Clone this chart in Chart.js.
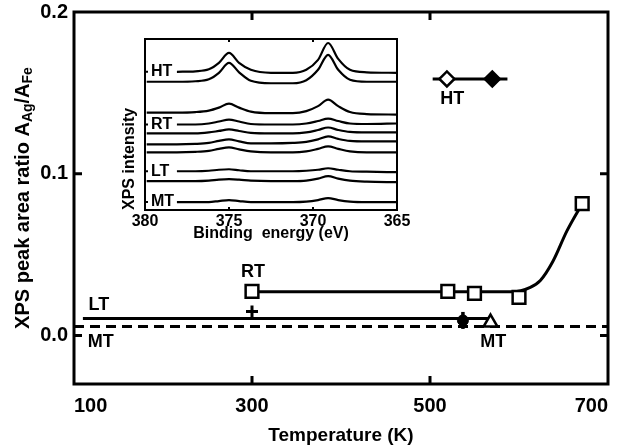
<!DOCTYPE html>
<html>
<head>
<meta charset="utf-8">
<script src="https://cdn.jsdelivr.net/npm/chart.js@4.4.0/dist/chart.umd.min.js"></script>
<style>
  html, body { margin: 0; padding: 0; background: #fff; }
  #wrap { position: relative; width: 621px; height: 447px; }
  #main { position: absolute; left: 0; top: 0; }
  #inset { position: absolute; left: 120px; top: 28px; }
</style>
</head>
<body>
<div id="wrap">
  <canvas id="main" width="621" height="447"></canvas>
  <canvas id="inset" width="290" height="215"></canvas>
</div>
<script>
// main plot: peak area ratio vs temperature
const tempTicks = [100, 300, 500, 700];
const ratioTicks = [0, 0.1, 0.2];

const rtTemp = [300, 520, 550, 600, 671];
const rtRatio = [0.0272, 0.0273, 0.026, 0.0235, 0.0815];
const rtFitTemp = [300, 593, 612, 624, 638, 654, 671];
const rtFitRatio = [0.027, 0.027, 0.0296, 0.034, 0.0457, 0.0648, 0.0815];

const ltLineTemp = [110, 568];
const ltLineRatio = [0.0105, 0.0105];
const ltPlusTemp = [300];
const ltPlusRatio = [0.0148];
const ltDotTemp = [537];
const ltDotRatio = [0.0093];

const mtLineTemp = [100, 700];
const mtLineRatio = [0.0056, 0.0056];
const mtTriTemp = [568];
const mtTriRatio = [0.008];

const htTemp = [519, 570];
const htRatio = [0.1586, 0.1586];
const htLineTemp = [503, 587];
const htLineRatio = [0.1586, 0.1586];

const noteText = ['LT', 'MT', 'RT', 'HT', 'MT'];
const noteTemp = [128, 130, 301, 525, 571];
const noteRatio = [0.0191, -0.0043, 0.0395, 0.1463, -0.0043];

// inset: XPS spectra (Ag 3d), stacked, arbitrary units
const energyTicks = [380, 375, 370, 365];
const energy = [379.9, 378.1, 377, 376.2, 375.6, 375, 374.4, 373.7, 372.5, 371.2, 370.4, 369.7, 369.1, 368.5, 367.8, 366.8, 365];
const spectra = [
  [null, 139, 139.5, 141.5, 148, 158, 148, 141, 138, 138, 141, 151, 168, 152, 141, 138.5, 138],
  [129, 129, 129.5, 131.5, 138, 148, 138.5, 130, 127.5, 127.5, 130.5, 141, 156, 141, 131, 129, 129],
  [98, 98, 98.5, 100, 103, 107, 103, 99, 97.5, 97.5, 99.5, 104.5, 111, 104.5, 98.5, 96.5, 96],
  [null, 86, 86, 87, 89, 91, 89, 86.5, 86, 86, 87, 89.5, 92, 89.5, 87, 86.5, 87],
  [77, 77, 77, 78, 79.5, 81, 79.5, 77.5, 77, 77, 78, 80.5, 83, 80.5, 78.5, 78, 78],
  [66, 66, 66.5, 67.5, 69.5, 71, 69, 67, 67, 67.5, 68.5, 71, 74, 71.5, 69.5, 69, 69],
  [58, 58, 58.5, 59.5, 61.5, 63, 61, 59, 58, 58, 59, 61.5, 64, 61.5, 59, 58, 58],
  [null, 39, 39, 39.5, 40.5, 41, 40, 39, 39, 39, 39.5, 40.5, 42, 40.5, 39, 38.5, 38],
  [29, 29, 29, 29.5, 30.5, 31, 30.5, 29.5, 29, 29, 29.5, 31.5, 34, 31.5, 29.5, 28.5, 28],
  [null, 8, 8, 8, 9, 10, 9, 8, 8, 8, 8.5, 10, 12, 10, 8.5, 8, 8]
];
const insetNoteText = ['HT', 'RT', 'LT', 'MT'];
const insetNoteEnergy = [379.65, 379.65, 379.65, 379.65];
const insetNoteLevel = [139, 86, 39, 8];

const FONT = "'Liberation Sans', Arial, Helvetica, sans-serif";
Chart.defaults.font.family = FONT;
Chart.defaults.color = '#000';

const pts = (xs, ys) => xs.map((x, i) => ({ x: x, y: ys[i] }));

// box around the plot area plus inward tick marks
const framePlugin = {
  id: 'frame',
  afterDraw(chart, args, opts) {
    const { ctx, chartArea: a, scales } = chart;
    ctx.save();
    ctx.strokeStyle = '#000';
    ctx.lineWidth = opts.width;
    ctx.strokeRect(a.left, a.top, a.right - a.left, a.bottom - a.top);
    ctx.beginPath();
    const L = opts.tick;
    scales.x.ticks.forEach(t => {
      const px = scales.x.getPixelForValue(t.value);
      if (px <= a.left + 2 || px >= a.right - 2) return;
      ctx.moveTo(px, a.bottom); ctx.lineTo(px, a.bottom - L);
      ctx.moveTo(px, a.top); ctx.lineTo(px, a.top + L);
    });
    const yMarks = opts.yMarks || scales.y.ticks.map(t => t.value);
    yMarks.forEach(v => {
      const py = scales.y.getPixelForValue(v);
      if (py <= a.top + 2 || py >= a.bottom - 2) return;
      ctx.moveTo(a.left, py); ctx.lineTo(a.left + L, py);
      if (opts.right !== false) { ctx.moveTo(a.right, py); ctx.lineTo(a.right - L, py); }
    });
    ctx.stroke();
    ctx.restore();
  }
};

// text labels placed at data coordinates
const notesPlugin = {
  id: 'notes',
  afterDatasetsDraw(chart, args, opts) {
    const { ctx, scales } = chart;
    ctx.save();
    ctx.fillStyle = '#000';
    ctx.font = 'bold ' + opts.size + 'px ' + FONT;
    ctx.textAlign = opts.align;
    ctx.textBaseline = 'middle';
    opts.text.forEach((s, i) => {
      ctx.fillText(s, scales.x.getPixelForValue(opts.xs[i]), scales.y.getPixelForValue(opts.ys[i]));
    });
    ctx.restore();
  }
};

// y title with subscripts
const yTitlePlugin = {
  id: 'ytitle',
  afterDraw(chart) {
    const { ctx, chartArea: a } = chart;
    const parts = [
      ['XPS peak area ratio A', 20, 0],
      ['Ag', 14, 5],
      ['/A', 20, 0],
      ['Fe', 14, 5]
    ];
    ctx.save();
    let total = 0;
    parts.forEach(p => { ctx.font = 'bold ' + p[1] + 'px ' + FONT; total += ctx.measureText(p[0]).width; });
    ctx.translate(23, (a.top + a.bottom) / 2);
    ctx.rotate(-Math.PI / 2);
    ctx.fillStyle = '#000';
    ctx.textBaseline = 'middle';
    ctx.textAlign = 'left';
    let x = -total / 2;
    parts.forEach(p => {
      ctx.font = 'bold ' + p[1] + 'px ' + FONT;
      ctx.fillText(p[0], x, p[2]);
      x += ctx.measureText(p[0]).width;
    });
    ctx.restore();
  }
};

const lineDs = (data, extra) => Object.assign({
  data: data, showLine: true, borderColor: '#000', borderWidth: 3,
  pointRadius: 0, fill: false
}, extra || {});
const markDs = (data, style, r, bg, extra) => Object.assign({
  data: data, showLine: false, pointStyle: style, pointRadius: r,
  pointBorderColor: '#000', pointBackgroundColor: bg, pointBorderWidth: 2.5
}, extra || {});

new Chart(document.getElementById('main'), {
  type: 'scatter',
  data: {
    datasets: [
      markDs(pts(rtTemp, rtRatio), 'rect', 9, '#fff'),
      markDs(pts(htTemp, htRatio), 'rectRot', 7.5, ['#fff', '#000']),
      markDs(pts(mtTriTemp, mtTriRatio), 'triangle', 8, '#fff'),
      markDs(pts(ltPlusTemp, ltPlusRatio), 'cross', 6, '#000', { pointBorderWidth: 3 }),
      markDs(pts(ltDotTemp, ltDotRatio), 'line', 8.5, '#000', { pointBorderWidth: 3.5, pointRotation: 90 }),
      markDs(pts(ltDotTemp, ltDotRatio), 'circle', 5.5, '#000', { pointBorderWidth: 1 }),
      lineDs(pts(rtFitTemp, rtFitRatio), { cubicInterpolationMode: 'monotone' }),
      lineDs(pts(ltLineTemp, ltLineRatio)),
      lineDs(pts(htLineTemp, htLineRatio)),
      lineDs(pts(mtLineTemp, mtLineRatio), { borderDash: [10, 6] })
    ]
  },
  options: {
    responsive: false,
    animation: false,
    layout: { padding: { left: 0, top: 12, right: 13, bottom: 0 } },
    plugins: {
      legend: { display: false },
      tooltip: { enabled: false },
      frame: { width: 3, tick: 8 },
      notes: { text: noteText, xs: noteTemp, ys: noteRatio, size: 18, align: 'center' }
    },
    scales: {
      x: {
        type: 'linear', min: 100, max: 700,
        afterBuildTicks: s => { s.ticks = tempTicks.map(v => ({ value: v })); },
        afterFit: s => { s.height = 63; s.paddingLeft = 0; s.paddingRight = 0; },
        grid: { display: false, drawTicks: false },
        border: { display: false },
        ticks: { font: { size: 20, weight: 'bold' }, padding: 10, maxRotation: 0, autoSkip: false, align: 'inner' },
        title: { display: true, text: 'Temperature (K)', font: { size: 19, weight: 'bold' }, padding: 0 }
      },
      y: {
        type: 'linear', min: -0.03, max: 0.2,
        afterBuildTicks: s => { s.ticks = ratioTicks.map(v => ({ value: v })); },
        afterFit: s => { s.width = 74; s.paddingTop = 0; s.paddingBottom = 0; },
        grid: { display: false, drawTicks: false },
        border: { display: false },
        ticks: { font: { size: 20, weight: 'bold' }, padding: 6, callback: v => v.toFixed(1) }
      }
    }
  },
  plugins: [framePlugin, notesPlugin, yTitlePlugin]
});

new Chart(document.getElementById('inset'), {
  type: 'scatter',
  data: {
    datasets: spectra.map(s => lineDs(pts(energy, s), { borderWidth: 2.2, cubicInterpolationMode: 'monotone', spanGaps: false }))
  },
  options: {
    responsive: false,
    animation: false,
    layout: { padding: { left: 0, top: 11, right: 13, bottom: 0 } },
    plugins: {
      legend: { display: false },
      tooltip: { enabled: false },
      frame: { width: 2, tick: 3, yMarks: insetNoteLevel, right: false },
      notes: { text: insetNoteText, xs: insetNoteEnergy, ys: insetNoteLevel, size: 16, align: 'left' }
    },
    scales: {
      x: {
        type: 'linear', min: 365, max: 380, reverse: true,
        afterBuildTicks: s => { s.ticks = energyTicks.map(v => ({ value: v })); },
        afterFit: s => { s.height = 33; s.paddingLeft = 0; s.paddingRight = 0; },
        grid: { display: false, drawTicks: false },
        border: { display: false },
        ticks: { font: { size: 16, weight: 'bold' }, padding: 2, maxRotation: 0, autoSkip: false },
        title: { display: true, text: 'Binding  energy (eV)', font: { size: 16, weight: 'bold' }, padding: 0 }
      },
      y: {
        type: 'linear', min: 0, max: 172,
        afterFit: s => { s.width = 25; s.paddingTop = 0; s.paddingBottom = 0; },
        grid: { display: false, drawTicks: false },
        border: { display: false },
        ticks: { display: false },
        title: { display: true, text: 'XPS intensity', align: 'start', font: { size: 16, weight: 'bold' }, padding: 0 }
      }
    }
  },
  plugins: [framePlugin, notesPlugin]
});
</script>
</body>
</html>
